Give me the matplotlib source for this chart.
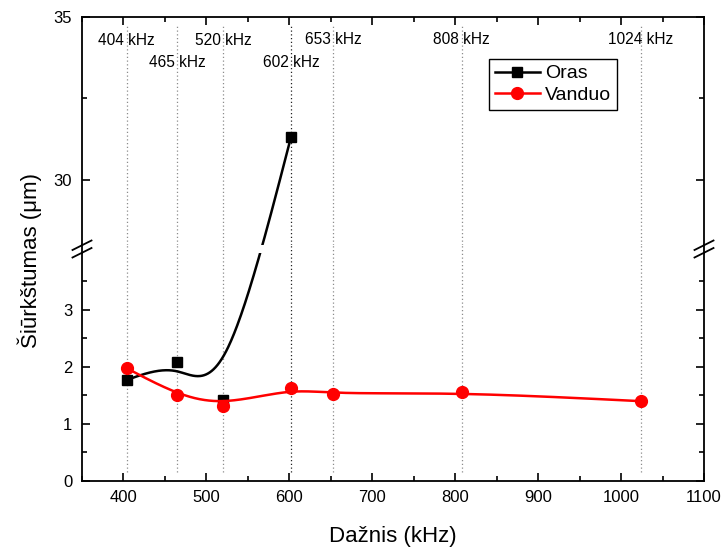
import numpy as np
import matplotlib
matplotlib.use("Agg")
import matplotlib.pyplot as plt
from matplotlib.lines import Line2D

plt.rcParams['font.family'] = ['Liberation Sans', 'DejaVu Sans']

# duomenys
freq_lines = [404, 465, 520, 602, 653, 808, 1024]
freq_labels = ['404 kHz', '465 kHz', '520 kHz', '602 kHz', '653 kHz', '808 kHz', '1024 kHz']
label_y = [34.26, 33.61, 34.26, 33.61, 34.3, 34.3, 34.3]
line_colors = ['#8c8c8c', '#8c8c8c', '#8c8c8c', '#222222', '#8c8c8c', '#8c8c8c', '#8c8c8c']

oras_x = [404, 465, 520, 602]
oras_y = [1.77, 2.09, 1.41, 31.31]
vanduo_x = [404, 465, 520, 602, 653, 808, 1024]
vanduo_y = [1.975, 1.506, 1.32, 1.624, 1.518, 1.553, 1.397]

low_lim = (0, 4)
up_lim = (28, 35)

# isdestymas pikseliais
W, H = 728, 548
L, R = 82, 704
low_bot, low_top = 480.7, 253.0
up_bot, up_top = 245.0, 16.7


def bspline(px, py, n=80):
    """uniform cubic B-spline, galai atspindeti"""
    p = np.column_stack([px, py]).astype(float)
    p = np.vstack([2 * p[0] - p[1], p, 2 * p[-1] - p[-2]])
    t = np.linspace(0, 1, n)
    b0 = (1 - t) ** 3 / 6
    b1 = (3 * t ** 3 - 6 * t ** 2 + 4) / 6
    b2 = (-3 * t ** 3 + 3 * t ** 2 + 3 * t + 1) / 6
    b3 = t ** 3 / 6
    segs = []
    for i in range(len(p) - 3):
        segs.append(np.outer(b0, p[i]) + np.outer(b1, p[i + 1])
                    + np.outer(b2, p[i + 2]) + np.outer(b3, p[i + 3]))
    c = np.vstack(segs)
    return c[:, 0], c[:, 1]


k_low = (low_bot - low_top) / (low_lim[1] - low_lim[0])
k_up = (up_bot - up_top) / (up_lim[1] - up_lim[0])
h_low = low_bot - low_top
gap = low_top - up_bot


def to_u(y):
    y = np.asarray(y, float)
    return np.where(y <= low_lim[1], y * k_low, h_low + gap + (y - up_lim[0]) * k_up)


fig = plt.figure(figsize=(W / 100, H / 100), dpi=100)
ax_low = fig.add_axes([L / W, (H - low_bot) / H, (R - L) / W, (low_bot - low_top) / H])
ax_up = fig.add_axes([L / W, (H - up_bot) / H, (R - L) / W, (up_bot - up_top) / H])

for ax in (ax_low, ax_up):
    ax.set_xlim(350, 1100)
    for s in ax.spines.values():
        s.set_linewidth(1.3)
    ax.tick_params(which='both', direction='in', width=1.2, labelsize=12, pad=7)
    ax.tick_params(which='major', length=6)
    ax.tick_params(which='minor', length=3.6)
    ax.set_xticks(np.arange(400, 1101, 100))
    ax.set_xticks(np.arange(350, 1101, 50), minor=True)

ax_low.set_ylim(*low_lim)
ax_up.set_ylim(*up_lim)
ax_low.spines['top'].set_visible(False)
ax_up.spines['bottom'].set_visible(False)
ax_low.tick_params(which='both', top=False, right=True, bottom=True, left=True)
ax_up.tick_params(which='both', top=True, bottom=False, right=True, left=True,
                  labelbottom=False)
ax_low.set_yticks([0, 1, 2, 3])
ax_low.set_yticks([0.5, 1.5, 2.5, 3.5], minor=True)
ax_up.set_yticks([30, 35])
ax_up.set_yticks([32.5], minor=True)

# spine tarpas ir lauzimo zymes
for xp in (L, R):
    fig.add_artist(Line2D([xp / W, xp / W], [(H - low_top) / H, (H - up_bot) / H],
                          color='black', lw=1.3))
for xp in (L, R):
    for dy in (0, 7.5):
        fig.add_artist(Line2D([(xp - 9.5) / W, (xp + 9.5) / W],
                              [(H - (250 + dy)) / H, (H - (240.5 + dy)) / H],
                              color='black', lw=1.3))

# vertikalios linijos
for f, c in zip(freq_lines, line_colors):
    ax_low.axvline(f, ymin=0.15 / 4, ymax=1 + gap / h_low, color=c,
                   linestyle=(0, (1, 2)), lw=0.9, clip_on=False, zorder=1)
    ax_up.axvline(f, ymin=0, ymax=(34.7 - 28) / 7, color=c,
                  linestyle=(0, (1, 2)), lw=0.9, zorder=1)
for f, lab, ly in zip(freq_lines, freq_labels, label_y):
    ax_up.text(f, ly, lab, ha='center', va='center', fontsize=11.2)

# kreives
ox, ou = bspline(oras_x, to_u(oras_y))
vx, vu = bspline(vanduo_x, to_u(vanduo_y))
for ax, conv in ((ax_low, lambda u: u / k_low),
                 (ax_up, lambda u: up_lim[0] + (u - h_low - gap) / k_up)):
    ax.plot(ox, conv(ou), color='black', lw=1.8, zorder=3)
    ax.plot(oras_x, oras_y, 's', color='black', ms=7.5, zorder=4)
    ax.plot(vx, conv(vu), color='red', lw=1.8, zorder=5)
    ax.plot(vanduo_x, vanduo_y, 'o', color='red', ms=8.5, zorder=6)

handles = [Line2D([], [], color='black', lw=1.8, marker='s', ms=7.5),
           Line2D([], [], color='red', lw=1.8, marker='o', ms=8.5)]
leg = ax_up.legend(handles, ['Oras', 'Vanduo'], loc='upper left',
                   bbox_to_anchor=((489 - L) / (R - L), (up_bot - 59) / (up_bot - up_top)),
                   fontsize=14, frameon=True, fancybox=False, framealpha=1,
                   edgecolor='black', borderpad=0.3, labelspacing=0.2,
                   handlelength=2.3, handletextpad=0.3, borderaxespad=0)
leg.get_frame().set_linewidth(1.0)

fig.text(30 / W, (H - 260) / H, 'Šiūrkštumas (μm)', rotation=90, ha='center',
         va='center', fontsize=16)
fig.text(393 / W, (H - 541.7) / H, 'Dažnis (kHz)', ha='center', va='baseline', fontsize=16)

fig.savefig('out.png', dpi=100)
